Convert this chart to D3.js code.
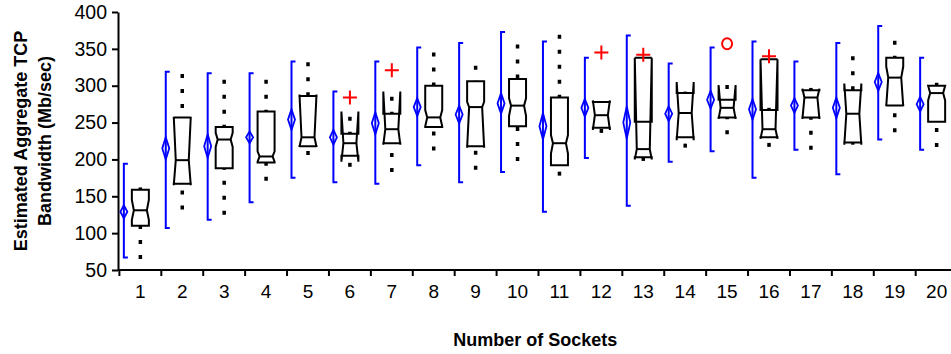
<!DOCTYPE html>
<html>
<head>
<meta charset="utf-8">
<script src="https://cdn.jsdelivr.net/npm/d3@7"></script>
<style>
  body { margin: 0; background: #fff; }
  svg { display: block; }
  text { font-family: "Liberation Sans", Arial, Helvetica, sans-serif; }
</style>
</head>
<body>
<svg id="chart" width="951" height="354"></svg>
<script>
// Number of sockets on the x axis
const sockets = d3.range(1, 21).map(String);

// Per-socket range (blue bracket) and mean with its confidence half-width (blue diamond)
const rangeHi = [194, 319, 317, 317, 333, 292, 333, 352, 358, 373, 360, 338, 368, 330, 352, 360, 333, 358, 381, 338];
const rangeLo = [67, 107, 118, 142, 175, 169, 167, 192, 169, 183, 129, 202, 137, 197, 211, 175, 213, 180, 227, 213];
const meanVal = [129, 215, 218, 230, 254, 230, 249, 271, 261, 276, 245, 270, 250, 262, 281, 268, 273, 270, 305, 275];
const meanCI  = [9, 15, 16, 8, 14, 10, 15, 12, 12, 14, 18, 12, 22, 10, 12, 14, 10, 14, 12, 10];

// Notched box plot statistics
const q1      = [110, 167, 188, 196, 218, 205, 222, 244, 218, 245, 192, 243, 203, 230, 257, 230, 257, 223, 273, 251];
const median  = [131, 199, 227, 204, 230, 222, 241, 257, 271, 273, 222, 260, 214, 263, 270, 241, 284, 262, 311, 290];
const q3      = [159, 257, 244, 265, 286, 235, 262, 300, 306, 309, 284, 278, 251, 290, 281, 267, 294, 294, 338, 300];
const notchLo = [118, 165, 217, 197, 217, 197, 220, 245, 216, 259, 208, 240, 200, 226, 255, 228, 255, 220, 272, 280];
const notchHi = [145, 258, 236, 211, 288, 265, 292, 267, 278, 283, 233, 280, 338, 305, 301, 336, 296, 303, 326, 300];
const whiskLo = [65, 132, 125, 171, 206, 190, 183, 212, 186, 198, 178, 236, 198, 216, 234, 217, 213, 220, 237, 217];
const whiskHi = [162, 316, 308, 308, 332, 258, 285, 345, 327, 356, 369, 279, 252, 292, 301, 270, 297, 340, 361, 304];

// Outliers
const plusSockets   = ["6", "7", "12", "13", "16"];
const plusValues    = [284, 321, 345, 342, 340];
const circleSockets = ["15"];
const circleValues  = [357];

const yTicks = [50, 100, 150, 200, 250, 300, 350, 400];

const svg = d3.select("#chart");
const x = d3.scaleBand().domain(sockets).range([119.4, 957.6]);
const y = d3.scaleLinear().domain([50, 400]).range([270, 12]);

const BLUE = "#0000ff";
const boxHalf = 8.5, indent = 2, blueOffset = -16.5;

const data = sockets.map((s, i) => ({
  s, rangeHi: rangeHi[i], rangeLo: rangeLo[i], mean: meanVal[i], ci: meanCI[i],
  q1: q1[i], med: median[i], q3: q3[i], nLo: notchLo[i], nHi: notchHi[i],
  wLo: whiskLo[i], wHi: whiskHi[i]
}));
const cx = d => x(d.s) + x.bandwidth() / 2;

// ---- Y axis ----
const yAxis = svg.append("g")
  .attr("transform", "translate(118,0)")
  .call(d3.axisLeft(y).tickValues(yTicks).tickSize(6).tickSizeOuter(0).tickPadding(5));
yAxis.select(".domain").attr("stroke-width", 2);
yAxis.selectAll(".tick line").attr("stroke-width", 2);
yAxis.selectAll(".tick text").attr("font-size", 19.5).attr("fill", "#000");

// ---- X axis ----
const xAxis = svg.append("g")
  .attr("transform", "translate(0,270)")
  .call(d3.axisBottom(x).tickSize(0).tickPadding(15));
xAxis.select(".domain").attr("stroke-width", 2).attr("d", "M118,0H951");
xAxis.selectAll(".tick text").attr("font-size", 19).attr("fill", "#000");
// category boundary ticks
svg.append("g").selectAll("line").data(sockets).join("line")
  .attr("x1", d => x(d)).attr("x2", d => x(d))
  .attr("y1", 270).attr("y2", 276)
  .attr("stroke", "#000").attr("stroke-width", 2);

// ---- Axis titles ----
svg.append("text")
  .attr("x", x.range()[0] + (951 - x.range()[0]) / 2).attr("y", 346)
  .attr("text-anchor", "middle").attr("font-size", 18).attr("font-weight", "bold")
  .text("Number of Sockets");

const yTitle = svg.append("g").attr("transform", `translate(0,${(y(50) + y(400)) / 2}) rotate(-90)`);
yTitle.append("text").attr("x", 0).attr("y", 27)
  .attr("text-anchor", "middle").attr("font-size", 18).attr("font-weight", "bold")
  .text("Estimated Aggregate TCP");
yTitle.append("text").attr("x", 0).attr("y", 51)
  .attr("text-anchor", "middle").attr("font-size", 18).attr("font-weight", "bold")
  .text("Bandwidth (Mb/sec)");

// ---- Blue range brackets and mean diamonds ----
const blue = svg.append("g");
blue.selectAll("path.range").data(data).join("path")
  .attr("class", "range")
  .attr("d", d => {
    const bx = cx(d) + blueOffset;
    return `M${bx + 4},${y(d.rangeHi)}H${bx}V${y(d.rangeLo)}H${bx + 4}`;
  })
  .attr("fill", "none").attr("stroke", BLUE).attr("stroke-width", 2);
blue.selectAll("path.diamond").data(data).join("path")
  .attr("class", "diamond")
  .attr("d", d => {
    const bx = cx(d) + blueOffset;
    return `M${bx},${y(d.mean + d.ci)}L${bx + 3.5},${y(d.mean)}L${bx},${y(d.mean - d.ci)}L${bx - 3.5},${y(d.mean)}Z`;
  })
  .attr("fill", "none").attr("stroke", BLUE).attr("stroke-width", 1.8);

// ---- Whiskers (dotted, drawn from the adjacent value toward the box) ----
const wh = svg.append("g").attr("stroke", "#000").attr("stroke-width", 3.5).attr("stroke-dasharray", "4,11");
wh.selectAll("line.up").data(data).join("line")
  .attr("x1", cx).attr("x2", cx)
  .attr("y1", d => y(d.wHi)).attr("y2", d => y(d.q3));
wh.selectAll("line.dn").data(data).join("line")
  .attr("x1", cx).attr("x2", cx)
  .attr("y1", d => y(d.wLo)).attr("y2", d => y(d.q1));

// ---- Notched boxes ----
const boxes = svg.append("g").attr("fill", "none").attr("stroke", "#000").attr("stroke-width", 2)
  .attr("stroke-linejoin", "miter");
boxes.selectAll("path.box").data(data).join("path")
  .attr("class", "box")
  .attr("d", d => {
    const c = cx(d), L = c - boxHalf, R = c + boxHalf;
    const pts = [
      [L, d.q1], [L, d.nLo], [L + indent, d.med], [L, d.nHi], [L, d.q3],
      [R, d.q3], [R, d.nHi], [R - indent, d.med], [R, d.nLo], [R, d.q1]
    ];
    let p = "M" + pts.map(([px, v]) => `${px},${y(v)}`).join("L") + "Z";
    // very wide notches are capped at their top
    if (d.nHi - d.q3 > 1.5 * (d.q3 - d.q1)) p += `M${L},${y(d.nHi)}H${R}`;
    return p;
  });
boxes.selectAll("line.med").data(data).join("line")
  .attr("class", "med")
  .attr("x1", d => cx(d) - boxHalf + indent).attr("x2", d => cx(d) + boxHalf - indent)
  .attr("y1", d => y(d.med)).attr("y2", d => y(d.med));

// ---- Outliers ----
const outl = svg.append("g").attr("stroke", "red").attr("stroke-width", 2).attr("fill", "none");
plusSockets.forEach((s, i) => {
  const px = x(s) + x.bandwidth() / 2, py = y(plusValues[i]);
  outl.append("path").attr("d", `M${px - 7},${py}H${px + 7}M${px},${py - 7}V${py + 7}`);
});
circleSockets.forEach((s, i) => {
  outl.append("ellipse")
    .attr("cx", x(s) + x.bandwidth() / 2).attr("cy", y(circleValues[i]))
    .attr("rx", 5).attr("ry", 5.5);
});
</script>
</body>
</html>
